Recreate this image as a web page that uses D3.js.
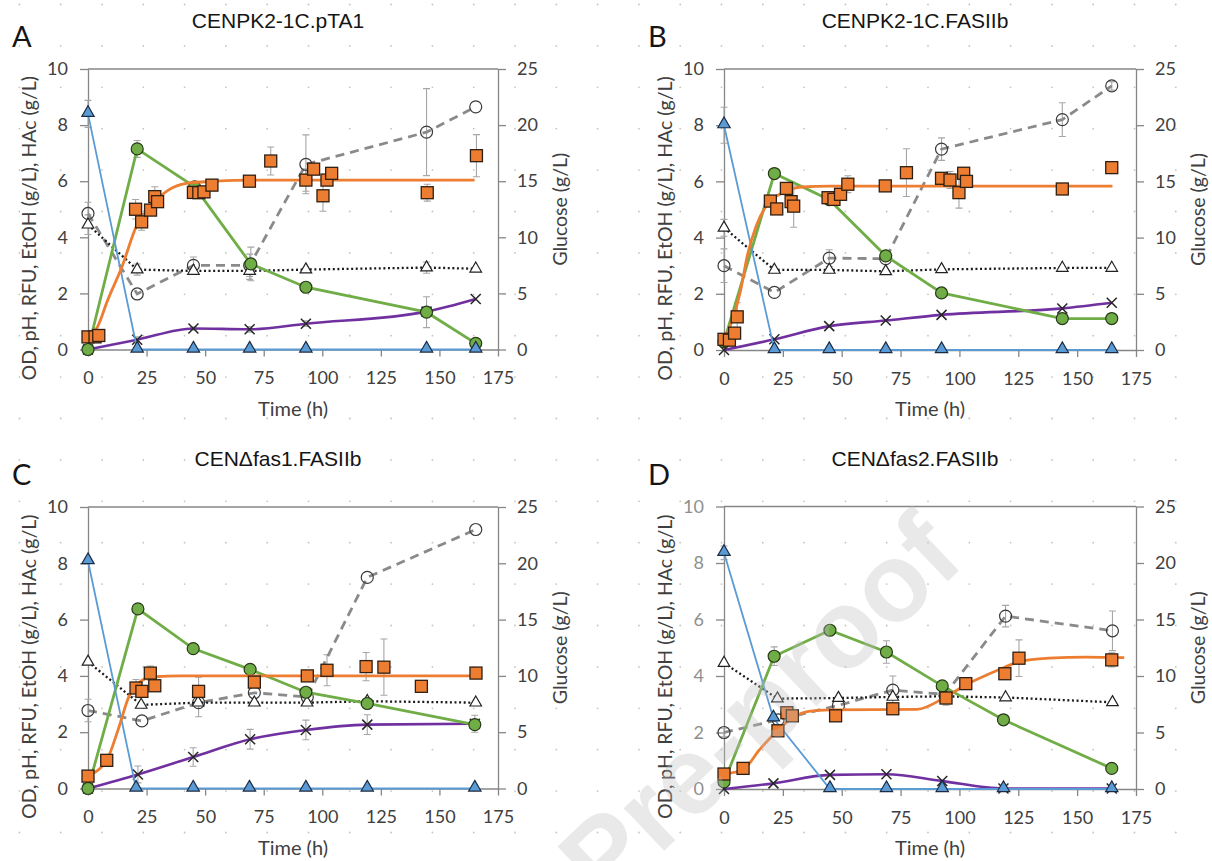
<!DOCTYPE html>
<html>
<head>
<meta charset="utf-8">
<script src="https://cdn.jsdelivr.net/npm/d3@7"></script>
<style>
  body { margin: 0; background: #fff; }
  svg { display: block; }
</style>
</head>
<body>
<script>
// each point: [time (h), value, error]; glucose in g/L (right axis), the rest on the left axis

var xTicks = [0, 25, 50, 75, 100, 125, 150, 175];
var yTicks = [0, 2, 4, 6, 8, 10];
var y2Ticks = [0, 5, 10, 15, 20, 25];

// A  CENPK2-1C.pTA1
var a_glucose = [[0, 21.0, 1.2], [21, 0], [45, 0], [69, 0], [93, 0], [144.5, 0], [165.5, 0]];
var a_od = [[0, 0], [21, 7.15, 0.3], [45.5, 5.8, 0.15], [69.5, 3.05, 0.6], [93, 2.22, 0.1], [144.5, 1.33, 0.55], [165.5, 0.22, 0.1]];
var a_hac = [[0, 0], [21, 0.35, 0.1], [45, 0.75, 0.05], [69, 0.72, 0.1], [93, 0.92, 0.1], [144.5, 1.35], [165.5, 1.8]];
var a_ph = [[0, 4.45, 0.35], [21, 2.85, 0.2], [45, 2.8, 0.1], [69, 2.8, 0.3], [93, 2.85], [144.5, 2.92, 0.2], [165.5, 2.88]];
var a_etoh = [[0, 4.85, 0.4], [21, 1.98], [45, 3.0, 0.3], [69, 3.0, 0.4], [93, 6.6, 1.05], [144.5, 7.75, 1.55], [165.5, 8.65]];
var a_rfu = [[0, 0.45], [3, 0.45], [4.6, 0.5], [20.3, 5.0, 0.35], [22.9, 4.55, 0.3], [26.7, 4.97], [28.5, 5.45, 0.35],
  [29.7, 5.27], [45, 5.6], [47.3, 5.59], [49.5, 5.62], [52.9, 5.86], [68.9, 6.0], [78, 6.72, 0.5], [93, 6.04, 0.4],
  [96.3, 6.43], [100.3, 5.48, 0.55], [102, 6.04], [104, 6.28], [144.8, 5.59, 0.3], [165.8, 6.91, 0.75]];
var a_rfuFit = [[0, 0.45], [4, 0.8], [8.4, 1.76], [14.5, 2.95], [20.6, 4.38], [26.7, 5.1], [34.3, 5.68], [42, 5.92],
  [54, 6.0], [70, 6.04], [165, 6.04]];

// B  CENPK2-1C.FASIIb
var b_glucose = [[0, 20.0, 1.6], [21.4, 0], [44.7, 0], [68.7, 0], [92.4, 0], [143.7, 0], [164.7, 0]];
var b_od = [[0, 0.3], [21.4, 6.28], [44.7, 5.35], [68.7, 3.35], [92.4, 2.03], [143.7, 1.12], [164.7, 1.12]];
var b_hac = [[0, 0], [21.4, 0.38], [44.7, 0.85], [68.7, 1.05], [92.4, 1.25], [143.7, 1.48], [164.7, 1.68]];
var b_ph = [[0, 4.35, 0.3], [21.4, 2.85], [44.7, 2.85], [68.7, 2.8], [92.4, 2.87], [143.7, 2.92], [164.7, 2.92]];
var b_etoh = [[0, 3.0, 0.6], [21.4, 2.05], [44.7, 3.27, 0.3], [68.7, 3.25], [92.4, 7.15, 0.4], [143.7, 8.2, 0.6], [164.7, 9.4, 0.15]];
var b_rfu = [[0, 0.38], [2.3, 0.35], [4.5, 0.6], [5.6, 1.18, 0.5], [19.7, 5.3], [22.4, 5.02], [26.5, 5.75], [28.5, 5.28],
  [29.6, 5.12, 0.75], [44.2, 5.42], [46.7, 5.36], [49.5, 5.54], [52.6, 5.9, 0.3], [68.5, 5.84], [77.5, 6.31, 0.85],
  [92.4, 6.11], [96, 6.05, 0.3], [99.8, 5.6, 0.55], [101.8, 6.29], [103, 6.0], [143.7, 5.73], [164.7, 6.49]];
var b_rfuFit = [[0, 0.35], [3.6, 1.07], [7, 2.1], [10, 3.4], [13.6, 4.4], [18.5, 5.2], [25, 5.6], [33, 5.8], [45, 5.83], [165, 5.83]];

// C  CENΔfas1.FASIIb
var c_glucose = [[0, 20.2], [20.5, 0], [44.9, 0], [68.9, 0], [93, 0], [119.2, 0], [165.1, 0]];
var c_od = [[0, 0], [21.3, 6.38], [44.9, 4.97], [69.2, 4.23], [93, 3.42], [119.2, 3.02], [165.1, 2.27]];
var c_hac = [[0, 0], [21.3, 0.5, 0.3], [44.9, 1.12, 0.33], [69.2, 1.75, 0.35], [93, 2.08, 0.35], [119.2, 2.27, 0.35], [165.1, 2.3, 0.3]];
var c_ph = [[0, 4.5], [22.7, 2.97], [47, 3.05], [71, 3.05], [93.5, 3.05], [119.2, 3.1], [165.5, 3.05]];
var c_etoh = [[0, 2.77, 0.4], [23, 2.4], [47.2, 3.05, 0.5], [71, 3.4], [93.6, 3.25], [119.2, 7.5], [165.5, 9.2]];
var c_rfu = [[0, 0.44], [8, 1.0], [20.5, 3.57, 0.3], [23, 3.45], [26.6, 4.1, 0.25], [28.5, 3.65], [47.2, 3.45, 0.5],
  [71, 3.78], [93.6, 4.0], [102, 4.2, 0.55], [118.7, 4.33, 0.5], [126.3, 4.31, 1.0], [142.3, 3.63], [165.6, 4.1]];
var c_rfuFit = [[0, 0.44], [5.3, 0.73], [8, 1.0], [12.9, 2.1], [17.5, 3.27], [21.3, 3.74], [28, 3.97], [40, 4.0], [165, 4.0]];

// D  CENΔfas2.FASIIb
var d_glucose = [[0, 20.9, 0.6], [21, 6.25], [45, 0], [69, 0], [92.7, 0], [118.7, 0], [164.7, 0]];
var d_od = [[0, 0.25], [21.3, 4.7, 0.33], [45, 5.62], [69, 4.85, 0.4], [92.7, 3.65], [118.7, 2.45], [164.7, 0.73]];
var d_hac = [[0, 0], [21, 0.2], [45, 0.5], [69, 0.52], [92.7, 0.28], [118.7, 0.02], [164.7, 0.02]];
var d_ph = [[0, 4.46], [22.7, 3.2], [48.6, 3.22], [71.7, 3.26], [93.9, 3.28], [119.6, 3.24], [165, 3.07]];
var d_etoh = [[0, 2.0, 0.15], [23, 2.45], [48.6, 2.96], [71.7, 3.5, 0.5], [93.9, 3.35], [119.6, 6.12, 0.38], [165, 5.6, 0.7]];
var d_rfu = [[0, 0.53], [8.1, 0.73], [22.9, 2.06], [26.7, 2.7], [29, 2.59], [47.4, 2.59], [71.7, 2.84], [94.3, 3.22, 0.25],
  [102.7, 3.73], [119.3, 4.08], [125.3, 4.63, 0.65], [164.7, 4.57, 0.25]];
var d_rfuFit = [[0, 0.53], [8, 0.68], [15, 1.38], [23, 2.1], [29.6, 2.55], [36, 2.75], [45, 2.8], [82, 2.82], [94, 3.25],
  [103, 3.7], [112, 4.05], [119, 4.3], [125, 4.5], [138, 4.63], [154, 4.67], [170, 4.65]];

var W = 1212, H = 861;
var AXIS = '#868686';
var TICK_TEXT = '#404040';
var ERR = '#a6a6a6';

var panels = [
  { letter: 'A', title: 'CENPK2-1C.pTA1', x0: 88, x1: 498, yt: 69, yb: 349.5,
    glucose: a_glucose, od: a_od, hac: a_hac, ph: a_ph, etoh: a_etoh, rfu: a_rfu, fit: a_rfuFit },
  { letter: 'B', title: 'CENPK2-1C.FASIIb', x0: 724, x1: 1136, yt: 69, yb: 350,
    glucose: b_glucose, od: b_od, hac: b_hac, ph: b_ph, etoh: b_etoh, rfu: b_rfu, fit: b_rfuFit },
  { letter: 'C', title: 'CENΔfas1.FASIIb', x0: 88, x1: 498, yt: 507, yb: 788.5,
    glucose: c_glucose, od: c_od, hac: c_hac, ph: c_ph, etoh: c_etoh, rfu: c_rfu, fit: c_rfuFit },
  { letter: 'D', title: 'CENΔfas2.FASIIb', x0: 724, x1: 1136, yt: 506.5, yb: 789, fadedLeft: true,
    glucose: d_glucose, od: d_od, hac: d_hac, ph: d_ph, etoh: d_etoh, rfu: d_rfu, fit: d_rfuFit }
];

var svg = d3.select('body').append('svg')
  .attr('width', W)
  .attr('height', H);

// faint dotted page background
var dots = [];
for (var i = 0; i < 30; i++) {
  for (var j = 0; j < 21; j++) dots.push([19.4 + 41.3 * i, 4.5 + 41.4 * j]);
}
svg.append('g').selectAll('circle')
    .data(dots)
  .enter().append('circle')
    .attr('cx', function(d) { return d[0]; })
    .attr('cy', function(d) { return d[1]; })
    .attr('r', 0.9)
    .attr('fill', '#c4c4c4');

panels.forEach(drawPanel);

// watermark, runs off the bottom edge as in the source
svg.append('text')
  .attr('transform', 'translate(786,735) rotate(-43.5)')
  .attr('text-anchor', 'middle')
  .style('font-family', 'Liberation Sans, Arial, sans-serif')
  .style('font-weight', 'bold')
  .style('font-size', '111px')
  .style('fill', '#bfbfbf')
  .style('opacity', 0.33)
  .text('Pre-proof');

function drawPanel(p) {
  var x = d3.scaleLinear().domain([0, 175]).range([p.x0, p.x1]);
  var y = d3.scaleLinear().domain([0, 10]).range([p.yb, p.yt]);
  var y2 = d3.scaleLinear().domain([0, 25]).range([p.yb, p.yt]);
  var g = svg.append('g');

  // plot area top border
  g.append('line')
    .attr('x1', p.x0).attr('x2', p.x1)
    .attr('y1', p.yt).attr('y2', p.yt)
    .attr('stroke', AXIS).attr('stroke-width', 1.3);

  var left = g.append('g')
    .attr('transform', 'translate(' + p.x0 + ',0)')
    .call(d3.axisLeft(y).tickValues(yTicks).tickSize(8).tickSizeOuter(0).tickPadding(12));
  var right = g.append('g')
    .attr('transform', 'translate(' + p.x1 + ',0)')
    .call(d3.axisRight(y2).tickValues(y2Ticks).tickSize(8).tickSizeOuter(0).tickPadding(11));
  var bottom = g.append('g')
    .attr('transform', 'translate(0,' + p.yb + ')')
    .call(d3.axisBottom(x).tickValues(xTicks).tickSize(7).tickSizeOuter(0).tickPadding(15));

  [left, right, bottom].forEach(function(ax) {
    ax.select('.domain').attr('stroke', AXIS).attr('stroke-width', 1.3);
    ax.selectAll('.tick line').attr('stroke', AXIS).attr('stroke-width', 1.3);
    ax.selectAll('text')
      .style('font-family', 'Lato, sans-serif')
      .style('font-size', '18px')
      .style('fill', TICK_TEXT);
  });
  if (p.fadedLeft) left.selectAll('text').style('fill', '#8f8f8f');

  // titles
  g.append('text')
    .attr('x', p.x0 - 76).attr('y', p.yt - 22)
    .style('font-family', 'Lato, sans-serif')
    .style('font-size', '29px')
    .style('fill', '#151515')
    .text(p.letter);
  g.append('text')
    .attr('x', (p.x0 + p.x1) / 2 - 15).attr('y', p.yt - 41)
    .attr('text-anchor', 'middle')
    .style('font-family', 'Liberation Sans, Arial, sans-serif')
    .style('font-size', '21px')
    .style('fill', '#151515')
    .text(p.title);
  g.append('text')
    .attr('x', (p.x0 + p.x1) / 2).attr('y', p.yb + 66)
    .attr('text-anchor', 'middle')
    .style('font-family', 'Lato, sans-serif')
    .style('font-size', '20px')
    .style('fill', TICK_TEXT)
    .text('Time (h)');
  g.append('text')
    .attr('transform', 'translate(' + (p.x0 - 59) + ',' + ((p.yt + p.yb) / 2 + 19) + ') rotate(-90)')
    .attr('text-anchor', 'middle')
    .attr('dy', '0.35em')
    .style('font-family', 'Lato, sans-serif')
    .style('font-size', '19.5px')
    .style('fill', TICK_TEXT)
    .text('OD, pH, RFU, EtOH (g/L), HAc (g/L)');
  g.append('text')
    .attr('transform', 'translate(' + (p.x1 + 62) + ',' + ((p.yt + p.yb) / 2) + ') rotate(-90)')
    .attr('text-anchor', 'middle')
    .attr('dy', '0.35em')
    .style('font-family', 'Lato, sans-serif')
    .style('font-size', '19.5px')
    .style('fill', TICK_TEXT)
    .text('Glucose (g/L)');

  function path(data, scale, curve) {
    return d3.line()
      .x(function(d) { return x(d[0]); })
      .y(function(d) { return scale(d[1]); })
      .curve(curve || d3.curveLinear)(data);
  }

  function errorBars(data, scale) {
    var withErr = data.filter(function(d) { return d[2]; });
    var eg = g.append('g').attr('stroke', ERR).attr('stroke-width', 1.1).attr('fill', 'none');
    withErr.forEach(function(d) {
      var cx = x(d[0]), top = scale(d[1] + d[2]), bot = scale(Math.max(0, d[1] - d[2]));
      eg.append('path').attr('d',
        'M' + cx + ',' + top + 'V' + bot +
        'M' + (cx - 3.5) + ',' + top + 'H' + (cx + 3.5) +
        'M' + (cx - 3.5) + ',' + bot + 'H' + (cx + 3.5));
    });
  }

  // error bars under the marks
  errorBars(p.etoh, y);
  errorBars(p.ph, y);
  errorBars(p.hac, y);
  errorBars(p.od, y);
  errorBars(p.glucose, y2);
  errorBars(p.rfu, y);

  // EtOH: grey dashed, open circles
  g.append('path').attr('d', path(p.etoh, y))
    .attr('fill', 'none').attr('stroke', '#8a8a8a').attr('stroke-width', 2.8)
    .attr('stroke-dasharray', '9,6');
  g.append('g').selectAll('circle')
      .data(p.etoh)
    .enter().append('circle')
      .attr('cx', function(d) { return x(d[0]); })
      .attr('cy', function(d) { return y(d[1]); })
      .attr('r', 6)
      .attr('fill', 'none')
      .attr('stroke', '#3a3a3a')
      .attr('stroke-width', 1.2);

  // pH: black dotted, open triangles
  g.append('path').attr('d', path(p.ph, y))
    .attr('fill', 'none').attr('stroke', '#1a1a1a').attr('stroke-width', 2.3)
    .attr('stroke-dasharray', '2,2.6');
  g.append('g').selectAll('path')
      .data(p.ph)
    .enter().append('path')
      .attr('transform', function(d) { return 'translate(' + x(d[0]) + ',' + y(d[1]) + ')'; })
      .attr('d', d3.symbol().type(d3.symbolTriangle).size(58))
      .attr('fill', '#fff')
      .attr('stroke', '#222')
      .attr('stroke-width', 1.2);

  // HAc: purple line, x marks
  g.append('path').attr('d', path(p.hac, y, d3.curveMonotoneX))
    .attr('fill', 'none').attr('stroke', '#7030a0').attr('stroke-width', 2.6);
  g.append('g').selectAll('path')
      .data(p.hac)
    .enter().append('path')
      .attr('transform', function(d) { return 'translate(' + x(d[0]) + ',' + y(d[1]) + ')'; })
      .attr('d', 'M-5,-5L5,5M-5,5L5,-5')
      .attr('stroke', '#262626')
      .attr('stroke-width', 1.5);

  // OD: green line, green circles
  g.append('path').attr('d', path(p.od, y))
    .attr('fill', 'none').attr('stroke', '#70ad47').attr('stroke-width', 2.8);
  g.append('g').selectAll('circle')
      .data(p.od)
    .enter().append('circle')
      .attr('cx', function(d) { return x(d[0]); })
      .attr('cy', function(d) { return y(d[1]); })
      .attr('r', 6)
      .attr('fill', '#70ad47')
      .attr('stroke', '#263a18')
      .attr('stroke-width', 1.2);

  // glucose: blue line, blue triangles (right axis)
  g.append('path').attr('d', path(p.glucose, y2))
    .attr('fill', 'none').attr('stroke', '#5b9bd5').attr('stroke-width', 1.8);
  g.append('g').selectAll('path')
      .data(p.glucose)
    .enter().append('path')
      .attr('transform', function(d) { return 'translate(' + x(d[0]) + ',' + (y2(d[1]) - 1) + ')'; })
      .attr('d', d3.symbol().type(d3.symbolTriangle).size(66))
      .attr('fill', '#5b9bd5')
      .attr('stroke', '#1c2c44')
      .attr('stroke-width', 1.2);

  // RFU: orange fitted curve, orange squares
  g.append('path').attr('d', path(p.fit, y, d3.curveMonotoneX))
    .attr('fill', 'none').attr('stroke', '#ed7d31').attr('stroke-width', 2.8);
  g.append('g').selectAll('rect')
      .data(p.rfu)
    .enter().append('rect')
      .attr('x', function(d) { return x(d[0]) - 6; })
      .attr('y', function(d) { return y(d[1]) - 6; })
      .attr('width', 12)
      .attr('height', 12)
      .attr('fill', '#ed7d31')
      .attr('stroke', '#2e1f12')
      .attr('stroke-width', 1.3);
}
</script>
</body>
</html>
